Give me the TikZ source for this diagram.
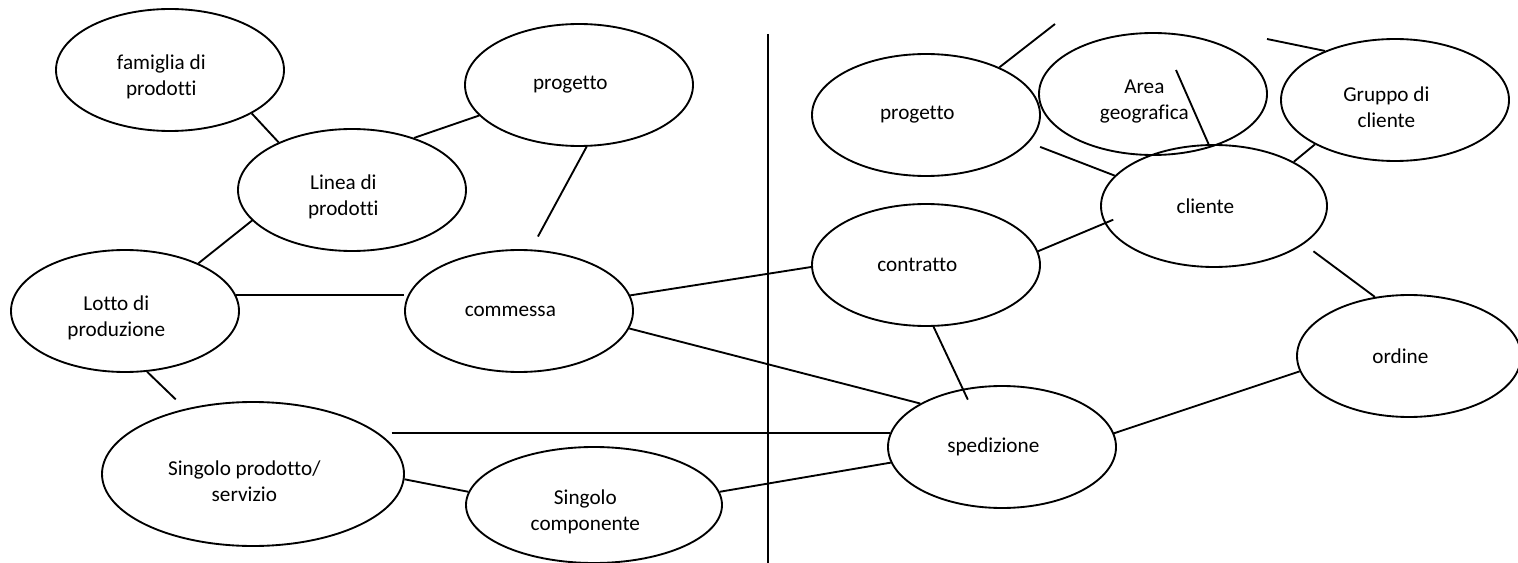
\documentclass[tikz,border=0pt]{standalone}
\usepackage{fontspec}
\setmainfont{Carlito}[Ligatures=NoCommon]
\usetikzlibrary{shapes.geometric}
\newcommand{\giu}{\rule{0pt}{22pt}}
\newcommand{\dx}{\hspace*{13pt}}

\begin{document}
\begin{tikzpicture}[x=0.75pt,y=0.75pt,yscale=-1,xscale=1,
  entita/.style={ellipse, draw, line width=1.4pt, minimum width=171pt, minimum height=91.5pt, inner sep=0pt, align=center, font=\fontsize{15.9pt}{19.5pt}\selectfont},
  conn/.style={line width=1.4pt}]
\useasboundingbox (0,0) rectangle (1518,563);

%Shape: Ellipse (left side)
\node[entita] (fam) at (170,70) {\giu famiglia di\dx\\prodotti\dx};
\node[entita] (lin) at (352,190) {\giu Linea di\dx\\prodotti\dx};
\node[entita] (prl) at (579,85) {progetto\dx};
\node[entita] (lot) at (125,311) {\giu Lotto di\dx\\produzione\dx};
\node[entita] (com) at (519,311) {commessa\dx};
\node[entita, minimum width=226.5pt, minimum height=108pt] (spr) at (253,474) {\giu Singolo prodotto/\dx\\servizio\dx};
\node[entita, minimum width=192pt, minimum height=87pt] (sco) at (594,505) {\giu Singolo\dx\\componente\dx};

%Shape: Ellipse (right side)
\node[entita] (prr) at (926,115) {progetto\dx};
\node[entita] (are) at (1153,94) {\giu Area\dx\\geografica\dx};
\node[entita] (gru) at (1395,100) {\giu Gruppo di\dx\\cliente\dx};
\node[entita, minimum width=169.5pt] (cli) at (1214,206) {cliente\dx};
\node[entita] (con) at (926,265) {contratto\dx};
\node[entita] (spe) at (1002,447) {spedizione\dx};
\node[entita, minimum width=168pt] (ord) at (1409,356) {ordine\dx};

%free ends
\coordinate (prrTip) at (1055,24);
\coordinate (areTip) at (1176,70);
\coordinate (gruTip) at (1267,39);
\coordinate (divTop) at (768,34);
\coordinate (divBot) at (768,563);

%Straight Lines (divider)
\draw[conn] (divTop) -- (divBot);

%Straight Lines (left side)
\draw[conn] (fam.-28) -- (lin.147);
\draw[conn] (lin.40) -- (prl.197);
\draw[conn] (lin.197) -- (lot.33);
\draw[conn, shorten >=11pt] (prl.-83) -- (com.79);
\draw[conn] (lot.8) -- (com.west |- lot.8);
\draw[conn, shorten >=10pt] (lot.-70) -- (spr.136);
\draw[conn] (spr.-2) -- (sco.174);

%Straight Lines (across)
\draw[conn] (com.8) -- (con.181);
\draw[conn] (com.-9) -- (spe.152);
\draw[conn, shorten <=-10pt] (spr.east |- spe.173) -- (spe.173);
\draw[conn] (sco.6) -- (spe.188);

%Straight Lines (right side)
\draw[conn] (prr.33) -- (prrTip);
\draw[conn, shorten <=9pt] (prr.-15) -- (cli.163);
\draw[conn, shorten >=-7pt] (con.7) -- (cli.189);
\draw[conn, shorten >=-9pt] (con.-83) -- (spe.124);
\draw[conn] (cli.95) -- (areTip);
\draw[conn] (gru.145) -- (gruTip);
\draw[conn] (cli.29) -- (gru.209);
\draw[conn, shorten <=9pt] (cli.-23) -- (ord.120);
\draw[conn] (spe.7) -- (ord.188);

\end{tikzpicture}
\end{document}
